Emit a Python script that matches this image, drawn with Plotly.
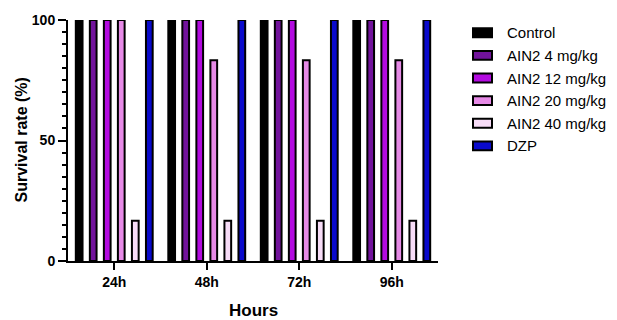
import plotly.graph_objects as go

hours = ["24h", "48h", "72h", "96h"]
series_names = ["Control", "AIN2 4 mg/kg", "AIN2 12 mg/kg", "AIN2 20 mg/kg", "AIN2 40 mg/kg", "DZP"]
control = [100, 100, 100, 100]
ain2_4 = [100, 100, 100, 100]
ain2_12 = [100, 100, 100, 100]
ain2_20 = [100, 83.3, 83.3, 83.3]
ain2_40 = [16.7, 16.7, 16.7, 16.7]
dzp = [100, 100, 100, 100]
series_values = [control, ain2_4, ain2_12, ain2_20, ain2_40, dzp]
colors = ["#000000", "#72139C", "#B30BE0", "#E68AE6", "#F7DCF7", "#0A0ACC"]
y_ticks = [0, 50, 100]

W, H = 617, 320
L, R, T, B = 68, 438, 16, 261

fig = go.Figure()
for name, vals, col in zip(series_names, series_values, colors):
    fig.add_trace(go.Bar(
        x=hours, y=vals, name=name,
        marker=dict(color=col, line=dict(color="black", width=2)),
        cliponaxis=False, showlegend=False,
    ))

font_family = "Liberation Sans, Arial, sans-serif"

fig.update_layout(
    width=W, height=H,
    margin=dict(l=L, r=W - R, t=T, b=H - B, pad=0),
    paper_bgcolor="white", plot_bgcolor="white",
    barmode="group", bargap=0.09, bargroupgap=0.52,
    font=dict(family=font_family, color="black"),
    xaxis=dict(
        range=[-0.5, 3.5], showline=True, linecolor="black", linewidth=2,
        ticks="outside", ticklen=7, tickwidth=2, tickcolor="black",
        tickfont=dict(size=14, family="Liberation Sans, Arial", weight="bold"),
        showgrid=False, zeroline=False, fixedrange=True,
    ),
    yaxis=dict(
        range=[0, 100], tickvals=y_ticks, showline=True, linecolor="black", linewidth=2,
        ticks="outside", ticklen=8, tickwidth=2, tickcolor="black",
        minor=dict(dtick=5, ticks="outside", ticklen=4, tickwidth=2, tickcolor="black", showgrid=False),
        tickfont=dict(size=14, family="Liberation Sans, Arial", weight="bold"),
        showgrid=False, zeroline=False, fixedrange=True,
    ),
)

# axis titles
fig.add_annotation(text="<b>Hours</b>", xref="paper", yref="paper",
                   x=0.5, y=-(311 - B) / (B - T), xanchor="center", yanchor="middle",
                   showarrow=False, font=dict(size=17, family=font_family))
fig.add_annotation(text="<b>Survival rate (%)</b>", xref="paper", yref="paper",
                   x=(21 - L) / (R - L), y=0.5, xanchor="center", yanchor="middle",
                   textangle=-90, showarrow=False, font=dict(size=16, family=font_family))

# legend drawn as shapes + text
leg_y0 = 29
leg_dy = 23
for i, (name, col) in enumerate(zip(series_names, colors)):
    cy = leg_y0 + i * leg_dy
    fig.add_shape(type="rect", xref="paper", yref="paper",
                  x0=(473 - L) / (R - L), x1=(492 - L) / (R - L),
                  y0=(B - (cy - 4.5)) / (B - T), y1=(B - (cy + 4.5)) / (B - T),
                  fillcolor=col, line=dict(color="black", width=2))
    fig.add_annotation(text=name, xref="paper", yref="paper",
                       x=(505 - L) / (R - L), y=(B - cy) / (B - T),
                       xanchor="left", yanchor="middle", showarrow=False,
                       font=dict(size=15, family=font_family))

fig.write_html("out.html", config={"displayModeBar": False},
               post_script="document.body.style.margin='0';")
